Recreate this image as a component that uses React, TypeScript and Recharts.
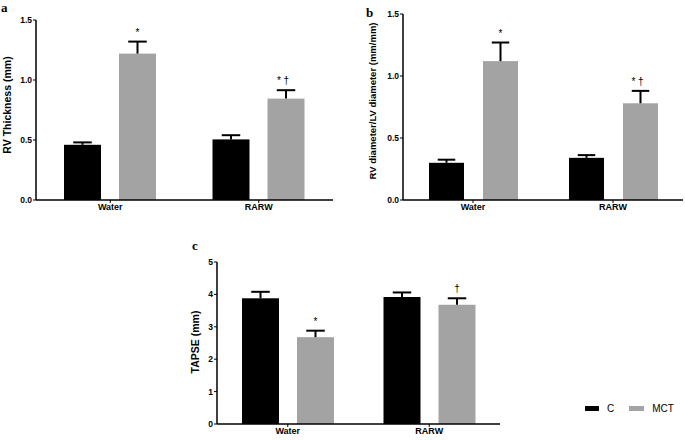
import React from 'react';
import { Bar, BarChart, Label, Legend, XAxis, YAxis } from 'recharts';

const categories = ['Water', 'RARW'];

// a: RV thickness (mm)
const thicknessC = [0.46, 0.505];
const thicknessCErr = [0.02, 0.035];
const thicknessMct = [1.22, 0.845];
const thicknessMctErr = [0.1, 0.07];
const thicknessMarks = ['*', '* †'];

// b: RV diameter / LV diameter
const ratioC = [0.3, 0.34];
const ratioCErr = [0.025, 0.022];
const ratioMct = [1.12, 0.78];
const ratioMctErr = [0.15, 0.1];
const ratioMarks = ['*', '* †'];

// c: TAPSE (mm)
const tapseC = [3.88, 3.92];
const tapseCErr = [0.2, 0.14];
const tapseMct = [2.68, 3.68];
const tapseMctErr = [0.2, 0.2];
const tapseMarks = ['*', '†'];

const ticksAB = [0, 0.5, 1, 1.5];
const ticksC = [0, 1, 2, 3, 4, 5];

const BLACK = '#000000';
const GREY = '#a3a3a3';
const FONT = '"Liberation Sans", Arial, sans-serif';

function rows(c: number[], cErr: number[], mct: number[], mctErr: number[], marks: string[]) {
  return categories.map((name, i) => ({
    name,
    c: c[i],
    cErr: cErr[i],
    mct: mct[i],
    mctErr: mctErr[i],
    mark: marks[i],
  }));
}

/** Bar with an upper-only error whisker; optional significance mark above it. */
function barWithError(key: string, errKey: string, withMark: boolean) {
  return (props: any) => {
    const { x, y, width, height, fill, payload } = props;
    const v = payload[key];
    const ppu = v ? height / v : 0;
    const top = y - payload[errKey] * ppu;
    const cx = x + width / 2;
    const cap = width * 0.5;
    const mark: string = withMark ? payload.mark : '';
    const shift = mark.length > 1 ? -3 : 0;
    return (
      <g>
        <rect x={x} y={y} width={width} height={height} fill={fill} />
        <line x1={cx} x2={cx} y1={y} y2={top} stroke={BLACK} strokeWidth={2} />
        <line x1={cx - cap / 2} x2={cx + cap / 2} y1={top} y2={top} stroke={BLACK} strokeWidth={2} />
        {mark && (
          <text
            x={cx + shift}
            y={top - 6}
            textAnchor="middle"
            fontSize={10}
            fontFamily={FONT}
            fill={BLACK}
          >
            {mark}
          </text>
        )}
      </g>
    );
  };
}

const tickStyle = { fontSize: 8.5, fontWeight: 700, fill: BLACK, fontFamily: FONT };
const axisLine = { stroke: BLACK, strokeWidth: 1.5 };

interface PanelProps {
  data: ReturnType<typeof rows>;
  width: number;
  height: number;
  margin: { top: number; right: number; bottom: number; left: number };
  yWidth: number;
  domain: [number, number];
  ticks: number[];
  decimals: number;
  label: string;
  labelOffset: number;
  labelSize: number;
  labelDy: number;
  barSize: number;
  barGap: number;
  legend?: boolean;
}

function Panel(p: PanelProps) {
  return (
    <BarChart
      width={p.width}
      height={p.height}
      data={p.data}
      margin={p.margin}
      barSize={p.barSize}
      barGap={p.barGap}
    >
      <XAxis
        dataKey="name"
        height={16}
        tick={{ ...tickStyle, fontSize: 9 }}
        tickSize={3}
        tickMargin={1}
        axisLine={axisLine}
        tickLine={{ stroke: BLACK }}
      />
      <YAxis
        width={p.yWidth}
        domain={p.domain}
        ticks={p.ticks}
        interval={0}
        tick={tickStyle}
        tickSize={3}
        tickMargin={1}
        axisLine={axisLine}
        tickLine={{ stroke: BLACK }}
        tickFormatter={(v) => Number(v).toFixed(p.decimals)}
      >
        <Label
          value={p.label}
          angle={-90}
          position="insideLeft"
          offset={p.labelOffset}
          dy={p.labelDy}
          style={{ textAnchor: 'middle', fontSize: p.labelSize, fontWeight: 700, fill: BLACK, fontFamily: FONT }}
        />
      </YAxis>
      {p.legend && (
        <Legend
          verticalAlign="top"
          wrapperStyle={{ position: 'absolute', left: 405, top: 183, width: 100 }}
          content={() => (
            <div style={{ display: 'flex', alignItems: 'center', fontFamily: FONT, fontSize: 10 }}>
              <span style={{ display: 'inline-block', width: 14, height: 5, background: BLACK }} />
              <span style={{ marginLeft: 8, marginRight: 15 }}>C</span>
              <span style={{ display: 'inline-block', width: 15, height: 5, background: GREY }} />
              <span style={{ marginLeft: 8 }}>MCT</span>
            </div>
          )}
        />
      )}
      <Bar
        dataKey="c"
        name="C"
        fill={BLACK}
        isAnimationActive={false}
        shape={barWithError('c', 'cErr', false)}
      />
      <Bar
        dataKey="mct"
        name="MCT"
        fill={GREY}
        isAnimationActive={false}
        shape={barWithError('mct', 'mctErr', true)}
      />
    </BarChart>
  );
}

export default function App() {
  const letter = { fontFamily: '"Liberation Serif", "Times New Roman", serif', fontWeight: 700, fontSize: 13 };
  return (
    <div style={{ position: 'absolute', left: 0, top: 0, width: 685, height: 440, background: '#fff' }}>
      <div style={{ position: 'absolute', left: 0, top: 0 }}>
        <Panel
          data={rows(thicknessC, thicknessCErr, thicknessMct, thicknessMctErr, thicknessMarks)}
          width={340}
          height={216}
          margin={{ top: 20, right: 7, bottom: 0, left: 0 }}
          yWidth={36}
          domain={[0, 1.5]}
          ticks={ticksAB}
          decimals={1}
          label="RV Thickness (mm)"
          labelOffset={7}
          labelSize={10.5}
          labelDy={-5}
          barSize={37}
          barGap={18}
        />
      </div>
      <div style={{ position: 'absolute', left: 340, top: 0 }}>
        <Panel
          data={rows(ratioC, ratioCErr, ratioMct, ratioMctErr, ratioMarks)}
          width={345}
          height={216}
          margin={{ top: 14, right: 2, bottom: 0, left: 0 }}
          yWidth={63}
          domain={[0, 1.5]}
          ticks={ticksAB}
          decimals={1}
          label="RV diameter/LV diameter (mm/mm)"
          labelOffset={33}
          labelSize={9.5}
          labelDy={-6}
          barSize={35}
          barGap={19}
        />
      </div>
      <div style={{ position: 'absolute', left: 180, top: 220 }}>
        <Panel
          data={rows(tapseC, tapseCErr, tapseMct, tapseMctErr, tapseMarks)}
          width={505}
          height={220}
          margin={{ top: 31, right: 185, bottom: 0, left: 0 }}
          yWidth={37}
          domain={[0, 5]}
          ticks={ticksC}
          decimals={0}
          label="TAPSE (mm)"
          labelOffset={15}
          labelSize={10.5}
          labelDy={-1}
          barSize={37}
          barGap={18}
          legend
        />
      </div>
      <svg width={685} height={440} style={{ position: 'absolute', left: 0, top: 0, pointerEvents: 'none' }}>
        <text x={1} y={12} style={letter}>a</text>
        <text x={366} y={17} style={letter}>b</text>
        <text x={192} y={250} style={letter}>c</text>
      </svg>
    </div>
  );
}
